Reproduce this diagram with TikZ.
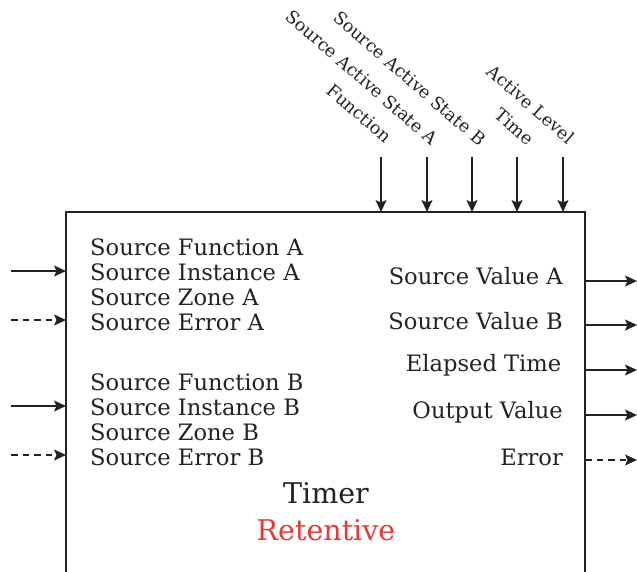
\documentclass[tikz,border=0pt]{standalone}
\usepackage{fontspec}
\setmainfont{DejaVu Serif}
\usetikzlibrary{arrows.meta}
\definecolor{ink}{HTML}{222222}
\definecolor{redtxt}{HTML}{E53935}
\tikzset{
  conn/.style={draw=ink, line width=1.3pt, -{Stealth[length=12pt,width=11pt,inset=2.5pt]}},
  dconn/.style={conn, dash pattern=on 6.5pt off 5pt},
  lefttxt/.style={anchor=base west, inner sep=0pt, text=ink, font=\fontsize{22.6}{25}\selectfont},
  righttxt/.style={anchor=base east, inner sep=0pt, text=ink, font=\fontsize{22.6}{25}\selectfont},
  toptxt/.style={anchor=base east, inner sep=0pt, text=ink, rotate=-41, font=\fontsize{17.5}{22}\selectfont},
  titletxt/.style={anchor=base, inner sep=0pt, font=\fontsize{28.5}{30}\selectfont},
}
\begin{document}
\begin{tikzpicture}[x=1pt,y=-1pt]
\useasboundingbox (0,0) rectangle (637,571);
% box
\coordinate (bl) at (66,580);
\coordinate (tl) at (66,212);
\coordinate (tr) at (585,212);
\coordinate (br) at (585,580);
\draw[ink, line width=1.2pt] (bl) -- (tl) -- (tr) -- (br);
% left texts
\node[lefttxt] (lfa) at (90,255) {Source Function A};
\node[lefttxt] (lia) at (90,280) {Source Instance A};
\node[lefttxt] (lza) at (90,305) {Source Zone A};
\node[lefttxt] (lea) at (90,330) {Source Error A};
\node[lefttxt] (lfb) at (90,390) {Source Function B};
\node[lefttxt] (lib) at (90,415) {Source Instance B};
\node[lefttxt] (lzb) at (90,440) {Source Zone B};
\node[lefttxt] (leb) at (90,465) {Source Error B};
% right texts
\node[righttxt] (rva) at (563,284) {Source Value A};
\node[righttxt] (rvb) at (563,329) {Source Value B};
\node[righttxt] (ret) at (561.5,371.5) {Elapsed Time};
\node[righttxt] (rov) at (563,418) {Output Value};
\node[righttxt] (rer) at (563,465) {Error};
% title
\node[titletxt, text=ink] (timer) at (326,503) {Timer};
\node[titletxt, text=redtxt] (ret2) at (326,540) {Retentive};
% top labels
\node[toptxt] (tfn) at (385,144) {Function};
\node[toptxt] (tsa) at (431,146) {Source Active State A};
\node[toptxt] (tsb) at (479,147) {Source Active State B};
\node[toptxt] (ttm) at (527,146) {Time};
\node[toptxt] (tal) at (568,145) {Active Level};
% top arrows
\foreach \n/\x in {1/381,2/427,3/472,4/517,5/563}{
  \coordinate (ts\n) at (\x,157);
  \coordinate (te\n) at (\x,212);
  \draw[conn] (ts\n) -- (te\n);
}
% left arrows
\coordinate (ls1) at (11,271); \coordinate (le1) at (66,271);
\coordinate (ls2) at (11,320); \coordinate (le2) at (66,320);
\coordinate (ls3) at (11,406); \coordinate (le3) at (66,406);
\coordinate (ls4) at (11,455); \coordinate (le4) at (66,455);
\draw[conn] (ls1) -- (le1);
\draw[dconn] (ls2) -- (le2);
\draw[conn] (ls3) -- (le3);
\draw[dconn] (ls4) -- (le4);
% right arrows
\coordinate (rs1) at (585,281); \coordinate (re1) at (637,281);
\coordinate (rs2) at (585,325); \coordinate (re2) at (637,325);
\coordinate (rs3) at (585,370); \coordinate (re3) at (637,370);
\coordinate (rs4) at (585,415); \coordinate (re4) at (637,415);
\coordinate (rs5) at (585,460); \coordinate (re5) at (637,460);
\draw[conn] (rs1) -- (re1);
\draw[conn] (rs2) -- (re2);
\draw[conn] (rs3) -- (re3);
\draw[conn] (rs4) -- (re4);
\draw[dconn] (rs5) -- (re5);
\end{tikzpicture}
\end{document}
